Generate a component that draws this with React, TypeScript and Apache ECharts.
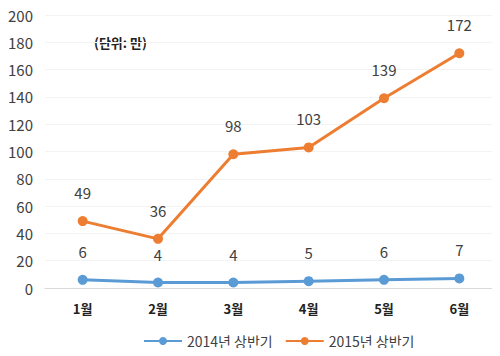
import React, { useEffect, useRef } from "react";
import * as echarts from "echarts";

const categories = ["1월", "2월", "3월", "4월", "5월", "6월"];
const series2014 = [6, 4, 4, 5, 6, 7];
const series2015 = [49, 36, 98, 103, 139, 172];
const seriesNames = ["2014년 상반기", "2015년 상반기"];
const unitText = "(단위: 만)";

export default function App() {
  const ref = useRef<HTMLDivElement>(null);
  useEffect(() => {
    if (!ref.current) return;
    const chart = echarts.init(ref.current, undefined, { renderer: "svg" });
    const font = "'Noto Sans CJK KR', 'Noto Sans', sans-serif";
    chart.setOption({
      animation: false,
      backgroundColor: "#ffffff",
      textStyle: { fontFamily: font },
      grid: { left: 45, right: 3, top: 15, bottom: 68 },
      legend: {
        bottom: 3,
        left: 138,
        itemWidth: 38,
        itemHeight: 10,
        itemGap: 12,
        textStyle: { fontSize: 14, color: "#404040", fontFamily: font },
        data: seriesNames,
      },
      graphic: [
        {
          type: "text",
          left: 94,
          top: 36,
          style: { text: unitText, fontSize: 13, fontWeight: "bold", fill: "#222", fontFamily: font },
        },
      ],
      xAxis: {
        type: "category",
        data: categories,
        boundaryGap: true,
        axisLine: { lineStyle: { color: "#d9d9d9", width: 1 } },
        axisTick: { show: false },
        axisLabel: { fontSize: 13, fontWeight: "bold", color: "#222", margin: 14, fontFamily: font },
      },
      yAxis: {
        type: "value",
        min: 0,
        max: 200,
        interval: 20,
        axisLine: { show: false },
        axisTick: { show: false },
        axisLabel: { fontSize: 15, color: "#404040", margin: 12, fontFamily: font },
        splitLine: { lineStyle: { color: "#f3f3f3", width: 1 } },
      },
      series: [
        {
          name: seriesNames[0],
          type: "line",
          data: series2014,
          color: "#5B9BD5",
          symbol: "circle",
          symbolSize: 10,
          lineStyle: { width: 3 },
          label: { show: true, position: "top", distance: 16, fontSize: 15, color: "#404040", fontFamily: font },
        },
        {
          name: seriesNames[1],
          type: "line",
          data: series2015,
          color: "#ED7D31",
          symbol: "circle",
          symbolSize: 10,
          lineStyle: { width: 3 },
          label: { show: true, position: "top", distance: 16, fontSize: 15, color: "#404040", fontFamily: font },
        },
      ],
    });
    return () => chart.dispose();
  }, []);
  return <div ref={ref} style={{ width: 500, height: 356, margin: -8 }} />;
}
